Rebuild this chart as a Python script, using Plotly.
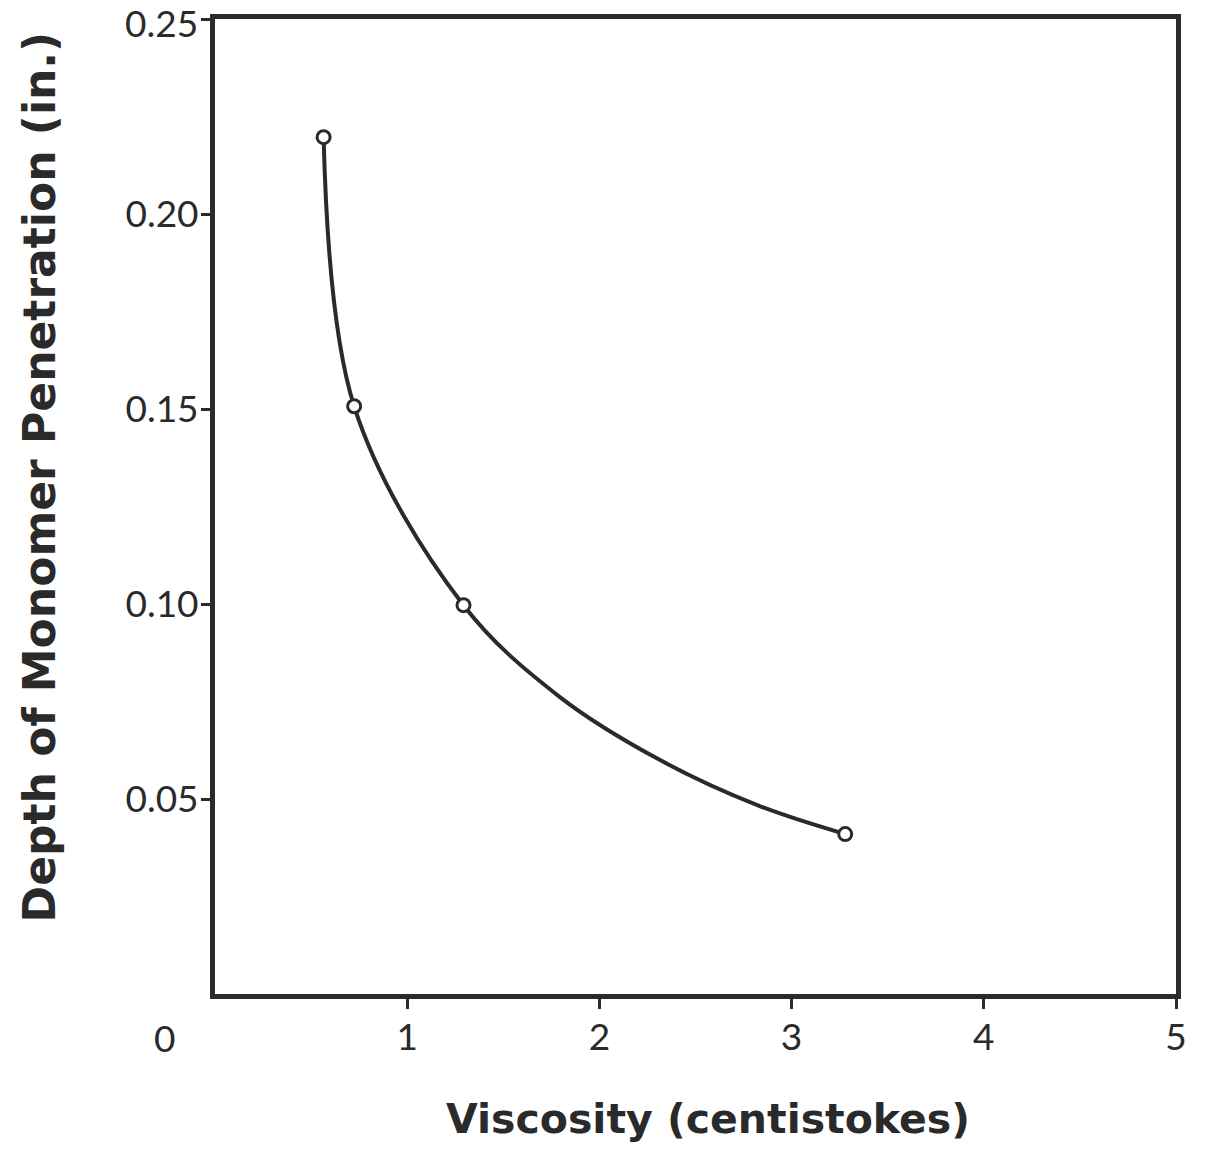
import plotly.graph_objects as go

viscosity = [0.565, 0.724, 1.293, 3.279]          # centistokes
depth = [0.2197, 0.1507, 0.0997, 0.0410]          # inches

# hand-drawn smooth curve (passes through the points)
curve_x = [0.565, 0.724, 1.293, 1.793, 2.311, 2.828, 3.279]
curve_y = [0.2197, 0.1507, 0.0997, 0.0762, 0.0601, 0.0483, 0.0410]

x_ticks = [1, 2, 3, 4, 5]
x_tick_text = ["1", "2", "3", "4", "5"]
y_ticks = [0.05, 0.10, 0.15, 0.20]
y_tick_text = ["0.05", "0.10", "0.15", "0.20"]

INK = "#2a2a2a"
TICK_FONT = dict(family="Lato, DejaVu Sans, sans-serif", size=37, color=INK)
TITLE_FONT_Y = dict(family="DejaVu Sans, sans-serif", size=44, color=INK)
TITLE_FONT_X = dict(family="DejaVu Sans, sans-serif", size=41, color=INK)

fig = go.Figure()
fig.add_trace(go.Scatter(
    x=curve_x, y=curve_y, mode="lines",
    line=dict(color=INK, width=4, shape="spline", smoothing=1.0),
    showlegend=False, hoverinfo="skip",
))
fig.add_trace(go.Scatter(
    x=viscosity, y=depth, mode="markers",
    marker=dict(symbol="circle", size=13, color="white",
                line=dict(color=INK, width=3)),
    showlegend=False,
))

fig.update_xaxes(
    range=[0, 5], tickvals=x_ticks, ticktext=x_tick_text,
    showline=True, linewidth=5, linecolor=INK, mirror=True,
    ticks="outside", ticklen=10, tickwidth=3, tickcolor=INK,
    showgrid=False, zeroline=False, tickfont=TICK_FONT,
    ticklabelstandoff=-3,
)
fig.update_yaxes(
    range=[0, 0.25], tickvals=y_ticks + [0.25], ticktext=y_tick_text + [""],
    showline=True, linewidth=5, linecolor=INK, mirror=True,
    ticks="outside", ticklen=9, tickwidth=3, tickcolor=INK,
    showgrid=False, zeroline=False, tickfont=TICK_FONT,
    ticklabelstandoff=-5,
)

# top tick label and the shared origin label
fig.add_annotation(x=0, y=0.25, xref="paper", yref="y", text="0.25",
                   showarrow=False, xanchor="right", yanchor="middle",
                   xshift=-15, yshift=-3, font=TICK_FONT)
fig.add_annotation(x=0, y=0, xref="x", yref="y", text="0", showarrow=False,
                   xanchor="center", yanchor="middle",
                   xshift=-51, yshift=-43, font=TICK_FONT)

fig.add_annotation(x=-0.183, y=0.53, xref="paper", yref="paper",
                   xanchor="center", yanchor="middle",
                   text="<b>Depth of Monomer Penetration (in.)</b>",
                   textangle=-90, showarrow=False, font=TITLE_FONT_Y)
fig.add_annotation(x=0.513, y=-0.128, xref="paper", yref="paper",
                   xanchor="center", yanchor="middle",
                   text="<b>Viscosity (centistokes)</b>",
                   showarrow=False, font=TITLE_FONT_X)

fig.update_layout(
    width=1208, height=1150,
    margin=dict(l=215, r=32, t=19, b=156),
    plot_bgcolor="white", paper_bgcolor="white",
)
fig.write_html("out.html")
